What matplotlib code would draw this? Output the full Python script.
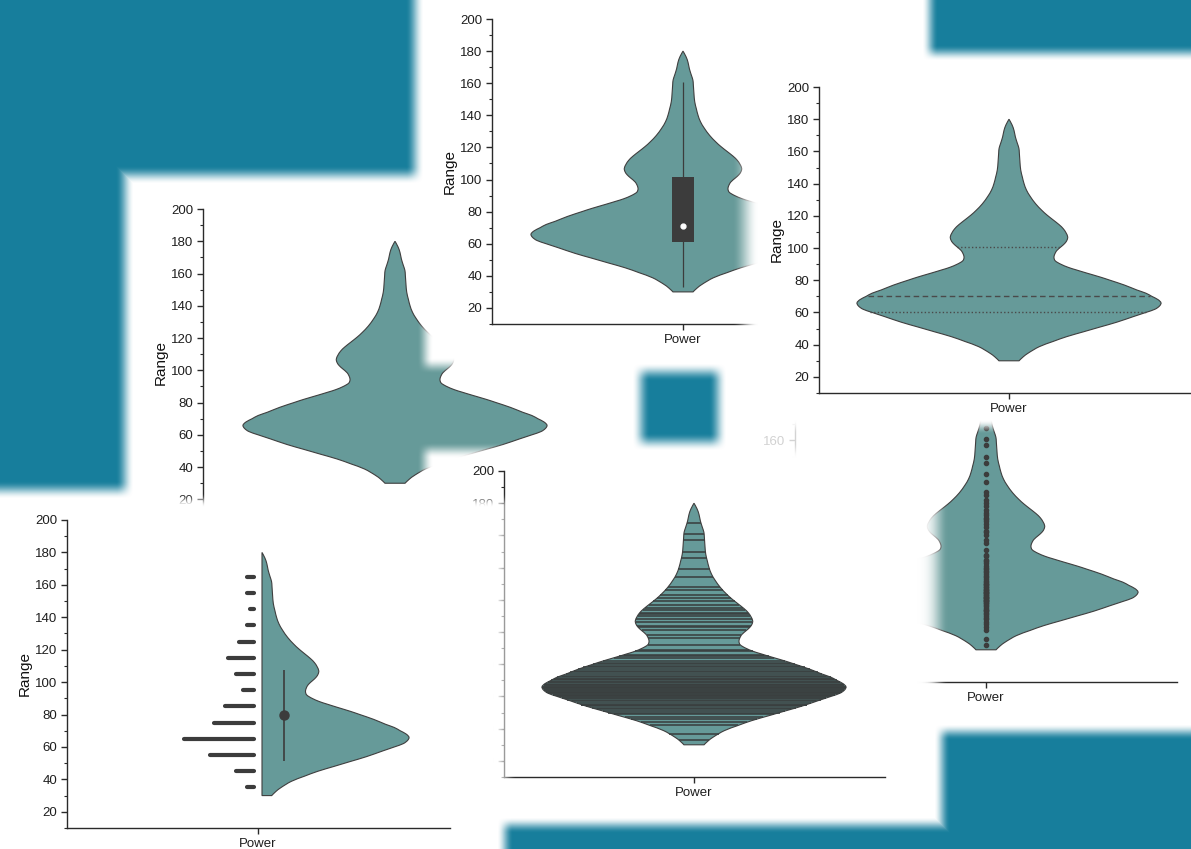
import numpy as np
import matplotlib.pyplot as plt
from matplotlib.colors import to_rgb
from matplotlib.patches import PathPatch
from matplotlib.path import Path
from matplotlib.ticker import MultipleLocator

plt.rcParams['font.family'] = ['Liberation Sans', 'DejaVu Sans']

# ---- values ----
category = 'Power'
y_label = 'Range'

# violin outline: Range level and relative half width (1 = widest point)
range_levels = [30, 32.5, 35, 38.8, 42, 45, 48, 51, 54, 57.5,
                60, 62, 64, 66, 68, 70, 72, 74, 77, 80,
                82, 84.5, 86.5, 88, 90, 92, 94, 96, 98.5, 101,
                103, 105, 107, 109.5, 112, 114.5, 117.5, 120.5, 123.5, 127.5,
                132, 136, 140, 144, 148.5, 153.5, 159, 162, 165, 169,
                173, 176.5, 180]
density_width = [0.066, 0.094, 0.13, 0.2, 0.29, 0.38, 0.49, 0.6, 0.71, 0.82,
                 0.9, 0.96, 0.99, 1.0, 0.98, 0.94, 0.9, 0.84, 0.76, 0.665,
                 0.6, 0.51, 0.44, 0.39, 0.34, 0.305, 0.296, 0.3, 0.315, 0.345,
                 0.368, 0.382, 0.386, 0.375, 0.357, 0.33, 0.29, 0.25, 0.215, 0.175,
                 0.14, 0.115, 0.099, 0.088, 0.077, 0.072, 0.068, 0.065, 0.055, 0.042,
                 0.033, 0.02, 0.0]

# individual observations (data lines / dots / histogram)
observations = [33, 37,
                42, 44, 46, 47, 49,
                50, 51, 52, 53, 54, 55, 55, 56, 57, 58, 59, 59,
                60, 60, 61, 61, 62, 62, 63, 63, 64, 64, 65, 65, 66, 66, 67, 67, 68, 69, 69,
                70, 71, 71, 72, 73, 74, 75, 76, 77, 78, 79,
                80, 81, 82, 84, 85, 86, 88, 89,
                92, 96, 98,
                101, 103, 104, 106, 108,
                110, 111, 112, 114, 115, 117, 119,
                121, 123, 126, 128,
                134, 139,
                146,
                150, 157,
                161, 168]
hist_edges = list(range(30, 171, 10))

# box plot summary
box_q1, box_median, box_q3 = 60.8, 70.8, 101.3
whisker_low, whisker_high = 33, 161

# quartile lines inside the violin
quartile_levels = [60.5, 70.5, 100.9]
quartile_styles = [(0, (1, 1.6)), (0, (4, 2.5)), (0, (1, 1.6))]

# mean and +/- SD
mean_value, sd_low, sd_high = 79.7, 51.5, 107.4

# ---- figure ----
W, H = 1191, 849
fig = plt.figure(figsize=(W / 100, H / 100), dpi=100)
fig.patch.set_facecolor('white')

teal = '#177e9c'
fill_c = '#669a99'
edge_c = '#3f3f3f'
mark_c = '#3c3c3c'
axis_c = '#2a2a2a'

PX = 380.0  # pixels per category unit, so a half width of 0.4 is ~152 px

yy, xx = np.mgrid[0:H, 0:W] + 0.5


def ramp(t):
    t = np.clip(t, 0, 1)
    return t * t * (3 - 2 * t)


def soft_rect(x0, y0, x1, y1, f=14, fl=None, ft=None, fr=None, fb=None):
    fl, ft, fr, fb = fl or f, ft or f, fr or f, fb or f
    return (ramp((xx - x0) / fl + 0.5) * ramp((x1 - xx) / fr + 0.5)
            * ramp((yy - y0) / ft + 0.5) * ramp((y1 - yy) / fb + 0.5))


def overlay(mask, color, z):
    rgba = np.zeros((H, W, 4))
    rgba[..., :3] = to_rgb(color)
    rgba[..., 3] = mask
    ax = fig.add_axes([0, 0, 1, 1], zorder=z)
    ax.imshow(rgba, extent=(0, W, H, 0), interpolation='nearest', aspect='auto')
    ax.set_xlim(0, W)
    ax.set_ylim(H, 0)
    ax.axis('off')


def panel(x0, x1, y_top, y_bot, xc, z):
    ax = fig.add_axes([x0 / W, 1 - y_bot / H, (x1 - x0) / W, (y_bot - y_top) / H], zorder=z)
    ax.patch.set_alpha(0)
    ax.set_xlim(1 - (xc - x0) / PX, 1 + (x1 - xc) / PX)
    ax.set_ylim(10, 200)
    for s in ('top', 'right'):
        ax.spines[s].set_visible(False)
    for s in ('left', 'bottom'):
        ax.spines[s].set_linewidth(1.0)
        ax.spines[s].set_color(axis_c)
    ax.set_yticks(range(20, 201, 20))
    ax.yaxis.set_minor_locator(MultipleLocator(10))
    ax.set_xticks([1])
    ax.set_xticklabels([category])
    ax.tick_params(which='major', length=4, width=1, color=axis_c,
                   labelsize=9.5, labelcolor='#1e1e1e', pad=3)
    ax.tick_params(axis='y', which='minor', length=2.2, width=0.8, color=axis_c)
    ax.set_ylabel(y_label, fontsize=11, labelpad=2.5, color='#111111')
    return ax


def smooth_side(pts):
    # Catmull-Rom through the outline points, as cubic Bezier pieces
    pts = np.asarray(pts, dtype=float)
    n = len(pts)
    verts = []
    for i in range(n - 1):
        p0, p1 = pts[max(i - 1, 0)], pts[i]
        p2, p3 = pts[i + 1], pts[min(i + 2, n - 1)]
        verts += [p1 + (p2 - p0) / 6, p2 - (p3 - p1) / 6, p2]
    return verts


def violin(ax, half=0.4, split=False, offset=0.0):
    d = np.array(density_width) * half
    y = np.array(range_levels, dtype=float)
    base = 1 + offset if split else 1.0
    right = np.column_stack([base + d, y])
    verts = [(base if split else 1 - d[0], y[0]), (base + d[0], y[0])]
    codes = [Path.MOVETO, Path.LINETO]
    seg = smooth_side(right)
    verts += seg
    codes += [Path.CURVE4] * len(seg)
    if split:
        verts += [(base, y[-1])]
        codes += [Path.LINETO]
    else:
        left = np.column_stack([1 - d, y])[::-1]
        seg = smooth_side(left)
        verts += seg
        codes += [Path.CURVE4] * len(seg)
    verts += [verts[0]]
    codes += [Path.CLOSEPOLY]
    ax.add_patch(PathPatch(Path(verts, codes), facecolor=fill_c,
                           edgecolor=edge_c, linewidth=0.8, zorder=2))


def width_at(v, half=0.4):
    return np.interp(v, range_levels, density_width) * half


# panel A: plain violin (mid left)
ax_a = panel(203, 700, 209, 515.5, 395, z=1)
violin(ax_a)

# card over A, then panel B: violin with box
overlay(soft_rect(425, -60, 820, 366, fl=16, fb=16), 'white', 2)
ax_b = panel(492, 800, 19, 324, 683, z=3)
violin(ax_b)
ax_b.vlines(1, whisker_low, whisker_high, colors=mark_c, lw=0.9, zorder=3)
ax_b.bar(1, box_q3 - box_q1, width=22 / PX, bottom=box_q1, color=mark_c, zorder=4)
ax_b.plot(1, box_median, 'o', ms=3.5, color='white', zorder=5)

# panel F: violin with data points (right middle)
ax_f = panel(795, 1177, 376, 682, 986, z=4)
violin(ax_f)
ax_f.plot(np.ones(len(observations)), observations, 'o', ms=3.0,
          color=mark_c, zorder=3)
overlay(soft_rect(700, 360, 935, 700, fr=30) * 0.8, 'white', 5)

# card, then panel C: violin with quartile lines (top right)
overlay(soft_rect(745, 58, 1300, 427, fl=26, ft=12, fb=14), 'white', 6)
ax_c = panel(819, 1191, 87, 393, 1009, z=7)
violin(ax_c)
for lvl, ls in zip(quartile_levels, quartile_styles):
    hw = width_at(lvl)
    ax_c.hlines(lvl, 1 - hw, 1 + hw, colors='#4a4a4a', lw=1.0,
                linestyles=[ls], zorder=3)

# card, then panel E: violin with data lines (bottom centre)
overlay(soft_rect(425, 450, 932, 835, fl=16, ft=16, fr=30), 'white', 8)
ax_e = panel(504, 885, 471, 777, 694, z=9)
violin(ax_e)
hw = width_at(observations)
ax_e.hlines(observations, 1 - hw, 1 + hw, colors='#3a3f3f', lw=1.15, zorder=3)

# card, then panel D: half violin with histogram and mean +/- SD (bottom left)
overlay(soft_rect(-60, 500, 505, 900, ft=14, fr=24), 'white', 10)
ax_d = panel(67, 450, 520, 828, 258, z=11)
violin(ax_d, half=147 / 380, split=True, offset=4 / PX)
counts, edges = np.histogram(observations, bins=hist_edges)
centers = (edges[:-1] + edges[1:]) / 2
bar_end = 1 - 4 / PX
ax_d.hlines(centers, bar_end - counts * 3.68 / PX, bar_end, colors=mark_c,
            lw=3, capstyle='round', zorder=3)
ax_d.vlines(1 + 26 / PX, sd_low, sd_high, colors=mark_c, lw=1.2, zorder=3)
ax_d.plot(1 + 26 / PX, mean_value, 'o', ms=6.5, color=mark_c, zorder=4)

# blurred teal blocks on top
teal_mask = np.maximum.reduce([
    soft_rect(-60, -60, 415, 175, f=18),
    soft_rect(-60, -60, 125, 490, f=18),
    soft_rect(930, -60, 1300, 53, f=16),
    soft_rect(641, 372, 718, 442, f=18),
    soft_rect(942, 732, 1300, 900, f=16),
    soft_rect(505, 825, 1300, 900, f=16),
])
overlay(teal_mask, teal, 12)

fig.savefig('out.png', dpi=100, facecolor='white')
